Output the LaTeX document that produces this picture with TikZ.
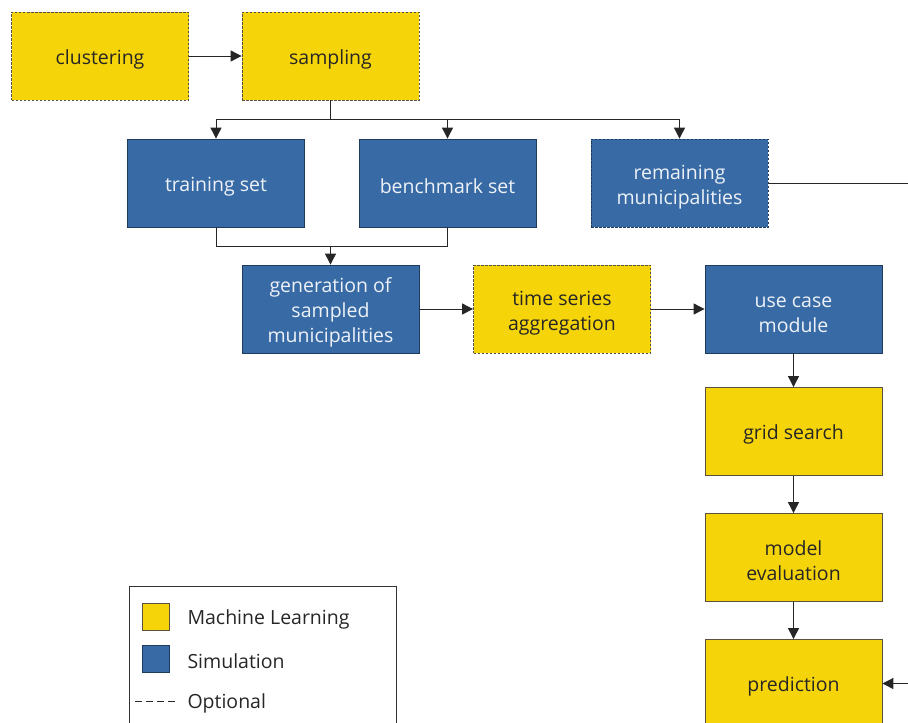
\documentclass[tikz,border=0pt]{standalone}
\usepackage{fontspec}
\setmainfont{Open Sans}
\usetikzlibrary{arrows.meta}
\definecolor{mlyellow}{HTML}{F6D40A}
\definecolor{simblue}{HTML}{386BA5}
\definecolor{simedge}{HTML}{1F3C5E}
\definecolor{mledge}{HTML}{5A5040}
\definecolor{simtext}{HTML}{EEF2F8}
\begin{document}
\begin{tikzpicture}[x=1pt,y=-1pt,
  font=\fontsize{19.5}{25}\selectfont,
  box/.style={rectangle, minimum width=177pt, minimum height=88pt, inner sep=2pt,
              align=center, line width=0.8pt,
              execute at begin node={\rule{0pt}{21pt}}},
  twolines/.style={execute at begin node={\rule{0pt}{47pt}}},
  threelines/.style={execute at begin node={\rule{0pt}{72pt}}},
  mlbox/.style={box, fill=mlyellow, draw=mledge, text=black!85},
  simbox/.style={box, fill=simblue, draw=simedge, text=simtext},
  optional/.style={dashed, dash pattern=on 2.5pt off 1.5pt},
  conn/.style={line width=0.9pt, draw=black!85},
  arr/.style={conn, -{Triangle[length=11pt,width=11pt]}},
  legtext/.style={anchor=west, text=black!85}]
\useasboundingbox (0,0) rectangle (908,723);
\clip (0,0) rectangle (908,723);

% process boxes
\node[mlbox, optional] (clust) at (100,56) {clustering};
\node[mlbox, optional] (samp) at (330.5,56) {sampling};
\node[simbox] (train) at (216,183) {training set};
\node[simbox] (bench) at (447.5,183) {benchmark set};
\node[simbox, optional, twolines] (rem) at (679.5,183) {remaining\\municipalities};
\node[simbox, threelines] (gen) at (330.5,309) {generation of\\sampled\\municipalities};
\node[mlbox, optional, twolines] (tsa) at (562,309) {time series\\aggregation};
\node[simbox, twolines] (ucm) at (793.5,309) {use case\\module};
\node[mlbox] (grid) at (793.5,431.5) {grid search};
\node[mlbox, twolines] (eval) at (793.5,557.5) {model\\evaluation};
\node[mlbox] (pred) at (793.5,683.5) {prediction};

% branching points
\coordinate (split) at (330.5,119);
\coordinate (merge) at (330.5,246);
\coordinate (farright) at (940,183);

% connectors
\draw[arr] (clust) -- (samp);
\draw[conn, line width=1.5pt] (samp.south) -- (split);
\draw[arr] (split) -| (train.north);
\draw[arr] (split) -| (bench.north);
\draw[arr] (split) -| (rem.north);
\draw[conn] (train.south) |- (merge);
\draw[conn] (bench.south) |- (merge);
\draw[arr] (merge) -- (gen.north);
\draw[arr] (gen) -- (tsa);
\draw[arr] (tsa) -- (ucm);
\draw[arr] (ucm) -- (grid);
\draw[arr] (grid) -- (eval);
\draw[arr] (eval) -- (pred);
\draw[arr] (rem.east) -- (farright) |- (pred.east);

% legend
\node[draw=black!80, line width=0.8pt, minimum width=267pt, minimum height=150pt,
      anchor=north west] (legend) at (128.5,585.5) {};
\node[fill=mlyellow, draw=mledge, line width=0.8pt, minimum size=27pt, inner sep=0pt]
  (lgml) at (155.5,617) {};
\node[fill=simblue, draw=simedge, line width=0.8pt, minimum size=27pt, inner sep=0pt]
  (lgsim) at (155.5,659) {};
\coordinate (lgdashA) at (135,701);
\coordinate (lgdashB) at (176,701);
\draw[conn, line width=0.8pt, dash pattern=on 7pt off 4pt] (lgdashA) -- (lgdashB);
\node[legtext] (lgmltext) at (184,619) {Machine Learning};
\node[legtext] (lgsimtext) at (184,661) {Simulation};
\node[legtext] (lgopttext) at (184,703) {Optional};
\end{tikzpicture}
\end{document}
